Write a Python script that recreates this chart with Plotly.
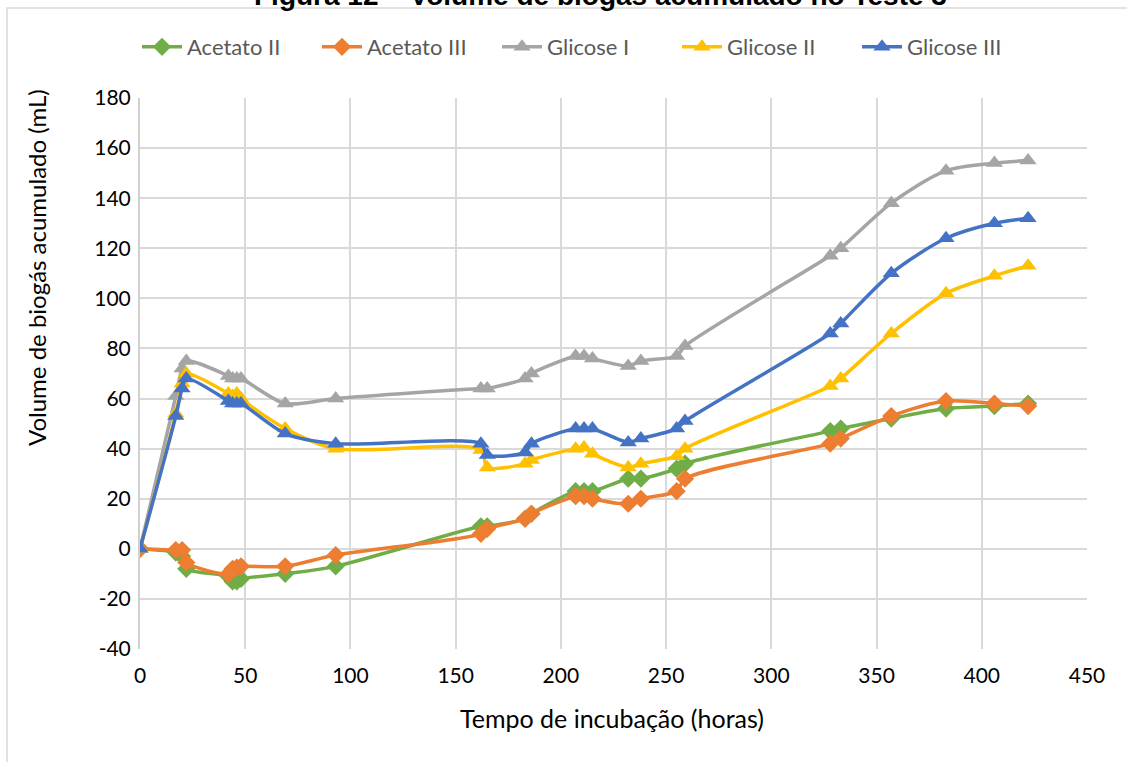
import plotly.graph_objects as go

# ---- data ----
tempo = [0, 17, 20, 22, 42, 44, 46, 48, 69, 93, 162, 165, 183, 186, 207, 211, 215,
         232, 238, 255, 259, 328, 333, 357, 383, 406, 422]

acetato_ii = [0, -1.5, -3, -8, -11, -13, -13, -12, -10, -7, 9, 9, 12, 14, 23, 23, 23,
              28, 28, 32, 34, 47, 48, 52, 56, 57, 58]
acetato_iii = [0, -0.5, -0.5, -5.5, -10, -8, -7.5, -7, -7, -2.5, 6, 8, 12, 14, 21, 21, 20,
               18, 20, 23, 28, 42, 44, 53, 59, 58, 57]
glicose_i = [0, 61, 72, 75, 69, 68, 68, 68, 58, 60, 64, 64, 68, 70, 77, 77, 76,
             73, 75, 77, 81, 117, 120, 138, 151, 154, 155]
glicose_ii = [0, 54, 66, 70, 62, 61, 62, 60, 48, 40, 39.5, 32.5, 34, 35.5, 40, 40.5, 38,
              32.5, 34, 37, 40, 65, 68, 86, 102, 109, 113]
glicose_iii = [0, 53, 64, 68, 59, 58, 58, 58, 46, 42, 42, 37.5, 38.5, 42, 48, 48, 48,
               42.5, 44, 48, 51, 86, 90, 110, 124, 130, 132]

series = [
    ("Acetato II", acetato_ii, "#70AD47", "diamond", 14),
    ("Acetato III", acetato_iii, "#ED7D31", "diamond", 14),
    ("Glicose I", glicose_i, "#A5A5A5", "triangle-up", 15),
    ("Glicose II", glicose_ii, "#FFC000", "triangle-up", 15),
    ("Glicose III", glicose_iii, "#4472C4", "triangle-up", 15),
]

y_ticks = [-40, -20, 0, 20, 40, 60, 80, 100, 120, 140, 160, 180]
y_ticktext = ["-40", "-20", "0", "20", "40", "60", "80", "100", "120", "140", "160", "180"]
x_ticks = [0, 50, 100, 150, 200, 250, 300, 350, 400, 450]

titulo = "Figura 12 – Volume de biogás acumulado no Teste 3"
x_titulo = "Tempo de incubação (horas)"
y_titulo = "Volume de biogás acumulado (mL)"

FONT = "Lato, 'Open Sans', sans-serif"

fig = go.Figure()
for name, vals, color, sym, msize in series:
    fig.add_trace(go.Scatter(
        x=tempo, y=vals, name=name, mode="lines+markers",
        line=dict(color=color, width=3.5, shape="spline", smoothing=0.8),
        marker=dict(symbol=sym, size=msize, color=color),
    ))

W, H = 1127, 762
L, R, T, B = 140, 40, 98, 113
pw, ph = W - L - R, H - T - B

def px_x(x):
    return (x - L) / pw

def px_y(y):
    return (H - B - y) / ph

fig.update_layout(
    width=W, height=H,
    margin=dict(l=L, r=R, t=T, b=B),
    paper_bgcolor="white", plot_bgcolor="white",
    font=dict(family=FONT, size=21, color="#000000"),
    showlegend=True,
    legend=dict(orientation="h", x=px_x(137), xanchor="left", y=px_y(47), yanchor="middle",
                font=dict(family=FONT, size=22, color="#595959"),
                entrywidth=125, itemwidth=40, bgcolor="rgba(0,0,0,0)"),
    xaxis=dict(range=[0, 450], tickvals=x_ticks, showgrid=True, gridcolor="#d9d9d9",
               gridwidth=1.5, zeroline=False, showline=False, ticks="",
               tickfont=dict(family=FONT, size=21, color="#000000"), ticklabelstandoff=12),
    yaxis=dict(range=[-40, 180], tickvals=y_ticks, ticktext=y_ticktext, showgrid=True,
               gridcolor="#d9d9d9", gridwidth=1.5, zeroline=False, showline=True,
               linecolor="#d0d0d0", linewidth=2, ticks="",
               tickfont=dict(family=FONT, size=21, color="#000000"), ticklabelstandoff=3),
    shapes=[dict(type="rect", xref="paper", yref="paper",
                 x0=px_x(7), x1=px_x(1140), y0=px_y(775), y1=px_y(8),
                 line=dict(color="#d9d9d9", width=1.5), fillcolor="rgba(0,0,0,0)", layer="below")],
    annotations=[
        dict(text="<b>" + titulo + "</b>", xref="paper", yref="paper", x=px_x(600), y=px_y(-5),
             xanchor="center", yanchor="middle", showarrow=False,
             font=dict(family="Liberation Sans, Arial, sans-serif", size=28, color="#000000")),
        dict(text=x_titulo, xref="paper", yref="paper", x=px_x(612), y=px_y(718),
             xanchor="center", yanchor="middle", showarrow=False,
             font=dict(family=FONT, size=25, color="#000000")),
        dict(text=y_titulo, xref="paper", yref="paper", x=px_x(36), y=px_y(268),
             xanchor="center", yanchor="middle", showarrow=False, textangle=-90,
             font=dict(family=FONT, size=24, color="#000000")),
    ],
)

fig.write_html("out.html", config={"displayModeBar": False},
               post_script="document.body.style.margin='0px';")
